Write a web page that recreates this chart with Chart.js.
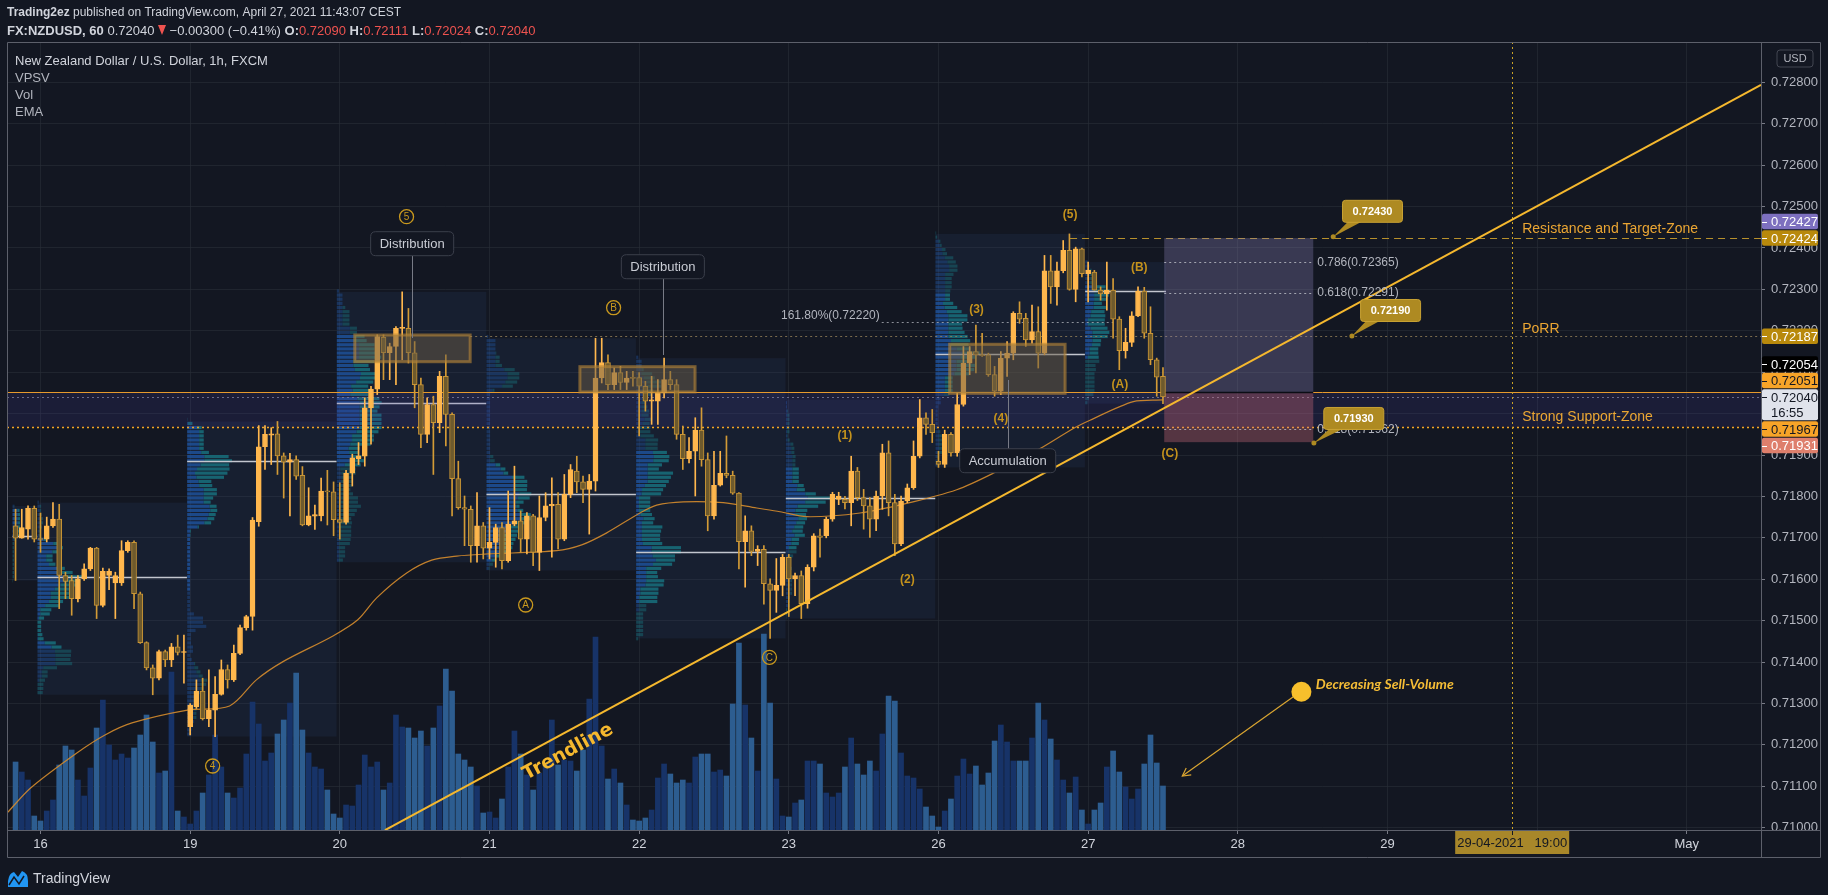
<!DOCTYPE html>
<html>
<head>
<meta charset="utf-8">
<script src="https://cdn.jsdelivr.net/npm/chart.js@4.4.0/dist/chart.umd.min.js"></script>
<style>
  html, body { margin: 0; padding: 0; background: #131722; overflow: hidden; }
</style>
</head>
<body>
<canvas id="c" width="1828" height="895"></canvas>
<script>
// ---- hourly bars, FX:NZDUSD 60 (bar index: first bar of 16 Apr = -1)
const firstBar = -5;

const open = [
  0.71729,0.71699,0.71721,0.71771,0.71697,0.71697,0.71729,0.71745,0.71609,0.71597,
  0.71553,0.71601,0.71625,0.71675,0.71537,0.71609,0.71591,0.71591,0.71669,0.71689,
  0.71565,0.71447,0.71386,0.71361,0.71425,0.71405,0.71437,0.71423,0.71244,0.71292,
  0.71330,0.71263,0.71284,0.71322,0.71382,0.71357,0.71421,0.71483,0.71510,0.71739,
  0.71920,0.71948,0.71951,0.71898,0.71883,0.71889,0.71851,0.71731,0.71752,0.71753,
  0.71813,0.71811,0.71744,0.71737,0.71856,0.71891,0.71897,0.72014,0.72059,0.72184,
  0.72147,0.72162,0.72206,0.72206,0.72147,0.72070,0.71950,0.72022,0.71978,0.72090,
  0.71998,0.71843,0.71773,0.71769,0.71681,0.71729,0.71675,0.71689,0.71725,0.71645,
  0.71733,0.71741,0.71697,0.71753,0.71665,0.71749,0.71777,0.71781,0.71697,0.71805,
  0.71861,0.71835,0.71817,0.71837,0.72086,0.72123,0.72070,0.72099,0.72075,0.72087,
  0.72087,0.72066,0.72030,0.72030,0.72050,0.72082,0.72070,0.71950,0.71891,0.71909,
  0.71960,0.71889,0.71753,0.71827,0.71856,0.71851,0.71808,0.71691,0.71717,0.71667,
  0.71672,0.71589,0.71573,0.71585,0.71653,0.71601,0.71609,0.71541,0.71629,0.71705,
  0.71705,0.71745,0.71793,0.71793,0.71785,0.71861,0.71797,0.71777,0.71745,0.71801,
  0.71905,0.71785,0.71685,0.71789,0.71821,0.71897,0.71990,0.71974,0.71885,0.71877,
  0.71950,0.71905,0.72022,0.72122,0.72150,0.72142,0.72142,0.72094,0.72054,0.72134,
  0.72146,0.72242,0.72230,0.72178,0.72198,0.72146,0.72345,0.72306,0.72345,0.72394,
  0.72300,0.72398,0.72338,0.72342,0.72298,0.72289,0.72298,0.72228,0.72152,0.72172,
  0.72236,0.72296,0.72194,0.72130,0.72090
];
const high = [
  0.71769,0.71769,0.71777,0.71777,0.71760,0.71750,0.71785,0.71781,0.71617,0.71609,
  0.71609,0.71637,0.71677,0.71677,0.71627,0.71625,0.71617,0.71693,0.71693,0.71693,
  0.71569,0.71449,0.71393,0.71429,0.71429,0.71445,0.71465,0.71465,0.71300,0.71357,
  0.71361,0.71381,0.71365,0.71405,0.71393,0.71441,0.71489,0.71513,0.71749,0.71971,
  0.71971,0.71966,0.71981,0.71905,0.71904,0.71898,0.71872,0.71821,0.71779,0.71844,
  0.71863,0.71835,0.71833,0.71863,0.71902,0.71930,0.72038,0.72066,0.72190,0.72190,
  0.72170,0.72210,0.72294,0.72254,0.72174,0.72086,0.72038,0.72042,0.72102,0.72142,
  0.72002,0.71885,0.71801,0.71777,0.71809,0.71737,0.71773,0.71733,0.71737,0.71813,
  0.71873,0.71765,0.71761,0.71757,0.71801,0.71809,0.71845,0.71809,0.71853,0.71877,
  0.71897,0.71849,0.71853,0.72182,0.72182,0.72142,0.72110,0.72114,0.72102,0.72102,
  0.72099,0.72078,0.72090,0.72082,0.72134,0.72102,0.72082,0.71970,0.71942,0.71990,
  0.72014,0.71905,0.71909,0.71909,0.71946,0.71861,0.71809,0.71753,0.71729,0.71681,
  0.71681,0.71601,0.71650,0.71660,0.71660,0.71615,0.71620,0.71635,0.71710,0.71721,
  0.71750,0.71810,0.71810,0.71800,0.71897,0.71870,0.71817,0.71797,0.71813,0.71926,
  0.71934,0.71805,0.71801,0.71830,0.71934,0.72034,0.72002,0.72010,0.71909,0.71960,
  0.71954,0.72050,0.72162,0.72162,0.72214,0.72194,0.72146,0.72114,0.72150,0.72174,
  0.72246,0.72270,0.72242,0.72262,0.72258,0.72382,0.72382,0.72366,0.72418,0.72434,
  0.72402,0.72400,0.72366,0.72346,0.72306,0.72366,0.72326,0.72234,0.72206,0.72246,
  0.72306,0.72305,0.72258,0.72134,0.72111
];
const low = [
  0.71597,0.71699,0.71697,0.71690,0.71665,0.71690,0.71725,0.71529,0.71553,0.71513,
  0.71545,0.71597,0.71621,0.71505,0.71533,0.71575,0.71505,0.71585,0.71665,0.71529,
  0.71445,0.71381,0.71321,0.71357,0.71389,0.71389,0.71417,0.71349,0.71224,0.71288,
  0.71260,0.71244,0.71220,0.71320,0.71337,0.71353,0.71418,0.71477,0.71477,0.71728,
  0.71865,0.71877,0.71853,0.71796,0.71753,0.71841,0.71729,0.71729,0.71720,0.71741,
  0.71731,0.71705,0.71697,0.71733,0.71825,0.71877,0.71873,0.71926,0.72046,0.72082,
  0.72082,0.72070,0.72130,0.72122,0.72014,0.71918,0.71930,0.71853,0.71954,0.71922,
  0.71753,0.71769,0.71681,0.71641,0.71641,0.71649,0.71649,0.71629,0.71625,0.71641,
  0.71729,0.71665,0.71661,0.71633,0.71621,0.71741,0.71653,0.71673,0.71693,0.71797,
  0.71809,0.71785,0.71709,0.71813,0.72074,0.72058,0.72058,0.72058,0.72058,0.72066,
  0.71946,0.72006,0.71974,0.71974,0.72038,0.72058,0.71938,0.71865,0.71881,0.71801,
  0.71873,0.71717,0.71745,0.71825,0.71845,0.71805,0.71625,0.71581,0.71657,0.71633,
  0.71540,0.71457,0.71520,0.71560,0.71510,0.71560,0.71505,0.71530,0.71620,0.71653,
  0.71700,0.71740,0.71780,0.71770,0.71729,0.71790,0.71721,0.71701,0.71717,0.71769,
  0.71753,0.71657,0.71681,0.71785,0.71817,0.71893,0.71950,0.71930,0.71870,0.71870,
  0.71897,0.71897,0.72018,0.72094,0.72098,0.72138,0.72090,0.72042,0.72046,0.72090,
  0.72130,0.72218,0.72162,0.72170,0.72110,0.72142,0.72266,0.72262,0.72340,0.72298,
  0.72270,0.72330,0.72270,0.72298,0.72274,0.72250,0.72182,0.72106,0.72134,0.72162,
  0.72234,0.72182,0.72118,0.72042,0.72024
];
const close = [
  0.71699,0.71725,0.71771,0.71697,0.71696,0.71729,0.71745,0.71609,0.71595,0.71553,
  0.71601,0.71625,0.71675,0.71537,0.71619,0.71619,0.71609,0.71669,0.71689,0.71565,
  0.71447,0.71386,0.71361,0.71425,0.71405,0.71437,0.71423,0.71425,0.71296,0.71330,
  0.71263,0.71284,0.71322,0.71382,0.71357,0.71421,0.71483,0.71510,0.71743,0.71920,
  0.71950,0.71951,0.71898,0.71883,0.71889,0.71849,0.71731,0.71753,0.71756,0.71813,
  0.71811,0.71744,0.71737,0.71856,0.71893,0.71898,0.72014,0.72059,0.72186,0.72147,
  0.72162,0.72206,0.72208,0.72147,0.72070,0.71950,0.72022,0.71978,0.72090,0.71998,
  0.71843,0.71773,0.71769,0.71681,0.71729,0.71675,0.71689,0.71725,0.71645,0.71733,
  0.71741,0.71697,0.71753,0.71665,0.71749,0.71777,0.71781,0.71697,0.71805,0.71865,
  0.71835,0.71817,0.71837,0.72086,0.72123,0.72070,0.72099,0.72075,0.72086,0.72085,
  0.72066,0.72030,0.72033,0.72050,0.72082,0.72070,0.71950,0.71891,0.71909,0.71960,
  0.71889,0.71753,0.71827,0.71856,0.71851,0.71808,0.71691,0.71717,0.71667,0.71672,
  0.71589,0.71573,0.71585,0.71653,0.71601,0.71609,0.71541,0.71629,0.71705,0.71701,
  0.71745,0.71805,0.71801,0.71785,0.71861,0.71797,0.71777,0.71745,0.71801,0.71905,
  0.71785,0.71685,0.71789,0.71821,0.71897,0.71990,0.71974,0.71954,0.71877,0.71950,
  0.71905,0.72022,0.72122,0.72150,0.72142,0.72140,0.72094,0.72054,0.72134,0.72146,
  0.72242,0.72228,0.72178,0.72198,0.72146,0.72345,0.72306,0.72345,0.72394,0.72300,
  0.72398,0.72338,0.72346,0.72298,0.72289,0.72298,0.72228,0.72152,0.72172,0.72236,
  0.72296,0.72194,0.72130,0.72088,0.72040
];
const volume = [
  68,58,50,14,9,19,30,65,84,80,
  50,34,62,102,130,85,70,76,72,82,
  95,115,88,57,59,158,19,13,6,19,
  37,55,95,63,37,32,42,76,128,106,
  69,77,96,110,127,157,100,77,63,61,
  40,16,12,25,24,45,75,63,68,40,
  47,115,103,102,92,99,84,102,124,161,
  139,76,70,63,44,17,18,12,31,63,
  99,76,55,40,57,67,110,65,70,69,
  59,80,131,193,84,51,61,47,25,10,
  9,12,20,52,66,56,47,50,47,73,
  76,76,58,60,54,126,187,125,92,59,
  196,127,51,14,13,27,30,69,69,66,
  37,33,37,63,92,66,55,69,59,96,
  134,129,77,54,52,41,23,14,3,19,
  31,54,71,56,64,45,57,89,105,88,
  69,69,69,92,127,110,91,70,50,37,
  53,20,6,20,27,63,79,58,43,31,
  41,66,95,67,44
];

// EMA
const emaX = [-6.26,-2.59,4.77,9.34,13.67,22.57,29.32,33.62,37.89,45.90,49.88,52.91,57.72,61.73,65.74,70.76,
  81.78,85.79,89.80,95.13,97.81,102.08,108.49,113.85,117.59,121.87,130.41,137.90,145.92,151.79,159.81,164.62,167.30,174.24,179.05];
const emaY = [0.71037,0.71096,0.71180,0.71224,0.71253,0.71284,0.71294,0.71357,0.71401,0.71463,0.71502,0.71555,0.71615,0.71646,0.71656,0.71661,
  0.71669,0.71683,0.71712,0.71760,0.71779,0.71787,0.71785,0.71772,0.71763,0.71751,0.71760,0.71783,0.71816,0.71856,0.71920,0.71964,0.71984,0.72029,0.72033];

// axes
const dayStarts = [-1, 23, 47, 71, 95, 119, 143, 167, 191, 215, 239, 263];
const dayLabels = ['16', '19', '20', '21', '22', '23', '26', '27', '28', '29', '30', 'May'];
const priceTicks = [0.710,0.711,0.712,0.713,0.714,0.715,0.716,0.717,0.718,0.719,0.720,0.721,0.722,0.723,0.724,0.725,0.726,0.727,0.728];
const sessions = [[-5,-2],[-1,22],[23,46],[47,70],[71,94],[95,118],[119,142],[143,166],[167,179]];

// drawings
const trendX = [54.24, 274.9];
const trendY = [0.70994, 0.72794];
const supportTop = 0.72051, supportBot = 0.71967, lastPrice = 0.72040;
const resistance = 0.72424, resistanceFrom = 164.1;
const porr = 0.72187, porrFrom = 67.9;
const fib161 = 0.72220, fib161From = 133.9, fib161To = 171.0;
const zoneX0 = [49.4, 85.5, 144.8], zoneX1 = [67.9, 103.96, 163.3];
const zoneY0 = [0.721898, 0.721133, 0.721674], zoneY1 = [0.721253, 0.720522, 0.720490];
const posX0 = 179.2, posX1 = 203.1, posTarget = 0.72424, posEntry = 0.72051, posStop = 0.71931;
const posFib = [0.72365, 0.72291, 0.71962], posFibText = ['0.786(0.72365)', '0.618(0.72291)', '0.618(0.71962)'];
const noteText = ['Distribution', 'Distribution', 'Accumulation'];
const noteX = [58.6, 98.8, 154.1], noteTop = [0.724393, 0.723837, 0.719152], noteTo = [0.721826, 0.721415, 0.720812];
const circText = ['5', 'B', 'A', 'C', '4'];
const circX = [57.7, 90.9, 76.8, 115.9, 26.6];
const circY = [0.724755, 0.722557, 0.715378, 0.714115, 0.71149];
const waveText = ['(1)', '(2)', '(3)', '(4)', '(5)', '(A)', '(B)', '(C)'];
const waveX = [128.0, 138.0, 149.1, 153.0, 164.1, 172.1, 175.2, 180.1];
const waveY = [0.719466, 0.715982, 0.722519, 0.719886, 0.724796, 0.720691, 0.723533, 0.719024];
const bubbleText = ['0.72430', '0.72190', '0.71930'];
const bubbleX = [212.6, 215.5, 209.6], bubbleY = [0.724885, 0.722490, 0.719882];
const bubbleTipX = [206.3, 209.3, 203.2], bubbleTipY = [0.72427, 0.721874, 0.71929];
const zoneText = ['Resistance and Target-Zone', 'PoRR', 'Strong Support-Zone'];
const zoneTextX = 236.6, zoneTextY = [0.724458, 0.722043, 0.719925];
const markIdx = 235, markLabel = '29-04-2021   19:00';
const tagPrices = [0.72427, 0.72424, 0.72187, 0.72054, 0.72051, 0.72040, 0.71967, 0.71931];
const tagBg = ['#7d70bf', '#b8890c', '#b8890c', '#000000', '#f7a428', '#e0e3eb', '#f7a428', '#de7f6c'];
const tagFg = ['#ffffff', '#ffffff', '#ffffff', '#ffffff', '#131722', '#131722', '#131722', '#ffffff'];
const mainTag = 5, mainTagSub = '16:55';

const FONT = '"Liberation Sans", Arial, sans-serif';
const xMin = -6.372, xMax = 274.9, yMin = 0.709944, yMax = 0.728974;

const barX = open.map((_, k) => firstBar + k);
const isUp = open.map((o, k) => close[k] >= o);

// ---- volume profile per session (VPSV), built from the bars
function buildProfile(a, b) {
  const rs = 0.0001;
  let lo = Infinity, hi = -Infinity;
  for (let i = a; i <= b; i++) {
    const k = i - firstBar;
    lo = Math.min(lo, low[k]); hi = Math.max(hi, high[k]);
  }
  const r0 = Math.floor(lo / rs + 1e-6), r1 = Math.ceil(hi / rs - 1e-6);
  const n = Math.max(1, r1 - r0);
  const up = new Array(n).fill(0), dn = new Array(n).fill(0);
  for (let i = a; i <= b; i++) {
    const k = i - firstBar;
    const L = low[k], H = high[k], span = Math.max(H - L, 1e-7);
    for (let r = 0; r < n; r++) {
      const rl = (r0 + r) * rs, rh = rl + rs;
      const ov = Math.min(H, rh) - Math.max(L, rl);
      if (ov <= 0) continue;
      const v = volume[k] * ov / span;
      if (isUp[k]) up[r] += v; else dn[r] += v;
    }
  }
  const tot = up.map((u, r) => u + dn[r]);
  let poc = 0;
  tot.forEach((t, r) => { if (t > tot[poc]) poc = r; });
  const sum = tot.reduce((s, t) => s + t, 0);
  let vaLo = poc, vaHi = poc, acc = tot[poc];
  while (acc < sum * 0.7 && (vaLo > 0 || vaHi < n - 1)) {
    const below = vaLo > 0 ? tot[vaLo - 1] : -1;
    const above = vaHi < n - 1 ? tot[vaHi + 1] : -1;
    if (above >= below) { vaHi++; acc += tot[vaHi]; } else { vaLo--; acc += tot[vaLo]; }
  }
  return { a, b, lo, hi, r0, rs, n, up, dn, poc, vaLo, vaHi, max: tot[poc] };
}
const profiles = sessions.map(s => buildProfile(s[0], s[1]));

// ---- helpers
function rrect(ctx, x, y, w, h, r) {
  ctx.beginPath();
  ctx.moveTo(x + r, y);
  ctx.lineTo(x + w - r, y); ctx.quadraticCurveTo(x + w, y, x + w, y + r);
  ctx.lineTo(x + w, y + h - r); ctx.quadraticCurveTo(x + w, y + h, x + w - r, y + h);
  ctx.lineTo(x + r, y + h); ctx.quadraticCurveTo(x, y + h, x, y + h - r);
  ctx.lineTo(x, y + r); ctx.quadraticCurveTo(x, y, x + r, y);
  ctx.closePath();
}
function hline(ctx, y, x0, x1, color, width, dash) {
  ctx.save();
  ctx.strokeStyle = color; ctx.lineWidth = width; ctx.setLineDash(dash || []);
  ctx.beginPath(); ctx.moveTo(x0, Math.round(y) + 0.5); ctx.lineTo(x1, Math.round(y) + 0.5); ctx.stroke();
  ctx.restore();
}

const tvPlugin = {
  id: 'tvPlugin',
  beforeDraw(c) {
    const ctx = c.ctx;
    ctx.save(); ctx.fillStyle = '#131722'; ctx.fillRect(0, 0, c.width, c.height); ctx.restore();
  },
  beforeDatasetsDraw(c) {
    const ctx = c.ctx, A = c.chartArea, X = c.scales.x, Y = c.scales.y;
    const px = v => X.getPixelForValue(v), py = v => Y.getPixelForValue(v);
    ctx.save();
    ctx.beginPath(); ctx.rect(A.left, A.top, A.right - A.left, A.bottom - A.top); ctx.clip();

    // session volume profiles
    profiles.forEach(p => {
      const x0 = px(p.a) - 3, x1 = px(p.b) + 3;
      const yT = py(p.hi), yB = py(p.lo);
      ctx.fillStyle = 'rgba(48,72,118,0.17)';
      ctx.fillRect(x0, yT, x1 - x0, yB - yT);
      const maxW = 0.3 * (x1 - x0);
      for (let r = 0; r < p.n; r++) {
        const rt = py((p.r0 + r + 1) * p.rs), rb = py((p.r0 + r) * p.rs);
        const h = Math.max(1, rb - rt - 1);
        const inVA = r >= p.vaLo && r <= p.vaHi;
        const wu = maxW * p.up[r] / p.max, wd = maxW * p.dn[r] / p.max;
        ctx.fillStyle = inVA ? 'rgba(30,84,160,0.8)' : 'rgba(30,84,160,0.42)';
        ctx.fillRect(x0, rt, wu, h);
        ctx.fillStyle = inVA ? 'rgba(24,112,124,0.85)' : 'rgba(24,112,124,0.45)';
        ctx.fillRect(x0 + wu, rt, wd, h);
      }
      const yp = py((p.r0 + p.poc + 0.5) * p.rs);
      hline(ctx, yp, x0, x1, '#c3c6ce', 1.5);
    });

    // support band + horizontal levels
    const bt = py(supportTop), bb = py(supportBot);
    ctx.fillStyle = 'rgba(72,62,170,0.16)';
    ctx.fillRect(A.left, bt, A.right - A.left, bb - bt);
    hline(ctx, bt, A.left, A.right, '#e79a2c', 1);
    hline(ctx, py(lastPrice), A.left, A.right, 'rgba(140,140,170,0.7)', 1, [2, 3]);
    hline(ctx, bb, A.left, A.right, '#f5a623', 1.5, [2, 3]);
    hline(ctx, py(porr), px(porrFrom), A.right, 'rgba(150,130,90,0.8)', 1, [2, 3]);
    hline(ctx, py(resistance), px(resistanceFrom), A.right, '#b8912c', 1.2, [7, 5]);
    hline(ctx, py(fib161), px(fib161From), px(fib161To), 'rgba(170,172,180,0.8)', 1, [2, 3]);

    // position tool
    const qx0 = px(posX0), qx1 = px(posX1);
    ctx.fillStyle = 'rgba(139,132,185,0.32)';
    ctx.fillRect(qx0, py(posTarget), qx1 - qx0, py(posEntry) - py(posTarget));
    ctx.fillStyle = 'rgba(208,110,125,0.35)';
    ctx.fillRect(qx0, py(posEntry), qx1 - qx0, py(posStop) - py(posEntry));
    hline(ctx, py(posEntry), qx0, qx1, '#0b0d14', 1.5);
    posFib.forEach(v => hline(ctx, py(v), qx0, qx1, 'rgba(190,192,200,0.8)', 1, [2, 3]));

    // time marker
    ctx.strokeStyle = '#c9a227'; ctx.lineWidth = 1; ctx.setLineDash([2, 3]);
    const mx = Math.round(px(markIdx)) + 0.5;
    ctx.beginPath(); ctx.moveTo(mx, A.top); ctx.lineTo(mx, A.bottom); ctx.stroke();
    ctx.setLineDash([]);
    ctx.restore();
  },
  afterDatasetsDraw(c) {
    const ctx = c.ctx, A = c.chartArea, X = c.scales.x, Y = c.scales.y;
    const px = v => X.getPixelForValue(v), py = v => Y.getPixelForValue(v);
    ctx.save();
    ctx.beginPath(); ctx.rect(A.left, A.top, A.right - A.left, A.bottom - A.top); ctx.clip();

    // distribution / accumulation rectangles
    zoneX0.forEach((x, i) => {
      const x0 = px(x), x1 = px(zoneX1[i]), y0 = py(zoneY0[i]), y1 = py(zoneY1[i]);
      ctx.fillStyle = 'rgba(105,92,70,0.5)';
      ctx.fillRect(x0, y0, x1 - x0, y1 - y0);
      ctx.strokeStyle = 'rgba(185,135,55,0.6)'; ctx.lineWidth = 3;
      ctx.strokeRect(x0, y0, x1 - x0, y1 - y0);
    });

    // fib labels
    ctx.font = '12px ' + FONT; ctx.fillStyle = '#b2b5be'; ctx.textBaseline = 'middle';
    ctx.textAlign = 'left';
    posFib.forEach((v, i) => ctx.fillText(posFibText[i], px(posX1) + 4, py(v)));
    ctx.textAlign = 'right';
    ctx.fillText('161.80%(0.72220)', px(fib161From) - 2, py(fib161) - 7);

    // callout notes
    ctx.font = '13px ' + FONT; ctx.textAlign = 'center';
    noteText.forEach((t, i) => {
      const cx = px(noteX[i]), top = py(noteTop[i]);
      const w = ctx.measureText(t).width + 18, h = 24;
      const tip = py(noteTo[i]);
      ctx.strokeStyle = '#787b86'; ctx.lineWidth = 1;
      ctx.beginPath();
      if (tip > top) { ctx.moveTo(Math.round(cx) + 0.5, top + h); ctx.lineTo(Math.round(cx) + 0.5, tip); }
      else { ctx.moveTo(Math.round(cx) + 0.5, top); ctx.lineTo(Math.round(cx) + 0.5, tip); }
      ctx.stroke();
      rrect(ctx, cx - w / 2, top, w, h, 5);
      ctx.fillStyle = '#131722'; ctx.fill();
      ctx.strokeStyle = '#3b3f4b'; ctx.stroke();
      ctx.fillStyle = '#c9ccd4'; ctx.fillText(t, cx, top + h / 2 + 1);
    });

    // circled elliott labels
    circText.forEach((t, i) => {
      const cx = px(circX[i]), cy = py(circY[i]);
      ctx.strokeStyle = '#c9991e'; ctx.lineWidth = 1.3;
      ctx.beginPath(); ctx.arc(cx, cy, 7, 0, Math.PI * 2); ctx.stroke();
      ctx.fillStyle = '#c9991e'; ctx.font = '10px ' + FONT; ctx.textAlign = 'center';
      ctx.fillText(t, cx, cy + 0.5);
    });
    ctx.font = 'bold 12px ' + FONT; ctx.fillStyle = '#c4921c';
    waveText.forEach((t, i) => ctx.fillText(t, px(waveX[i]), py(waveY[i])));

    // price bubbles
    ctx.font = 'bold 11px ' + FONT;
    bubbleText.forEach((t, i) => {
      const cx = px(bubbleX[i]), cy = py(bubbleY[i]);
      const tx = px(bubbleTipX[i]), ty = py(bubbleTipY[i]);
      const w = 60, h = 22, x0 = cx - w / 2, y0 = cy - h / 2;
      ctx.fillStyle = '#ae8a22'; ctx.strokeStyle = '#c9a233'; ctx.lineWidth = 1;
      ctx.beginPath(); ctx.moveTo(x0 + 6, y0 + h - 1); ctx.lineTo(tx, ty); ctx.lineTo(x0 + 20, y0 + h - 1); ctx.closePath();
      ctx.fill();
      rrect(ctx, x0, y0, w, h, 3); ctx.fill(); ctx.stroke();
      ctx.beginPath(); ctx.arc(tx, ty, 2.5, 0, Math.PI * 2); ctx.fill();
      ctx.fillStyle = '#ffffff'; ctx.textAlign = 'center'; ctx.fillText(t, cx, cy + 0.5);
    });

    // zone names
    ctx.font = '14px ' + FONT; ctx.fillStyle = '#eba633'; ctx.textAlign = 'left';
    zoneText.forEach((t, i) => ctx.fillText(t, px(zoneTextX), py(zoneTextY[i])));

    // trendline caption, along the line
    const ang = Math.atan2(py(trendY[1]) - py(trendY[0]), px(trendX[1]) - px(trendX[0]));
    ctx.save();
    ctx.translate(px(83.6), py(0.711828)); ctx.rotate(ang);
    ctx.font = 'bold 19px "DejaVu Sans", ' + FONT; ctx.fillStyle = '#f5b82e'; ctx.textAlign = 'center';
    ctx.fillText('Trendline', 0, 0);
    ctx.restore();

    // decreasing sell-volume note
    const ax0 = px(199.9), ay0 = py(0.713164), ax1 = px(182.1), ay1 = py(0.711248);
    ctx.strokeStyle = '#d9a531'; ctx.lineWidth = 1.2;
    ctx.beginPath(); ctx.moveTo(ax0, ay0); ctx.lineTo(ax1, ay1); ctx.stroke();
    const aa = Math.atan2(ay0 - ay1, ax0 - ax1);
    ctx.beginPath();
    ctx.moveTo(ax1 + 9 * Math.cos(aa - 0.5), ay1 + 9 * Math.sin(aa - 0.5));
    ctx.lineTo(ax1, ay1);
    ctx.lineTo(ax1 + 9 * Math.cos(aa + 0.5), ay1 + 9 * Math.sin(aa + 0.5));
    ctx.stroke();
    ctx.fillStyle = '#f7bf2c';
    ctx.beginPath(); ctx.arc(px(201.2), py(0.713284), 10, 0, Math.PI * 2); ctx.fill();
    ctx.font = 'italic bold 14px Lato, ' + FONT; ctx.fillStyle = '#f5bd36'; ctx.textAlign = 'left';
    ctx.fillText('Decreasing Sell-Volume', px(203.5), py(0.71347));
    ctx.restore();
  },
  afterDraw(c) {
    const ctx = c.ctx, A = c.chartArea, X = c.scales.x, Y = c.scales.y;
    ctx.save();
    // frame lines
    ctx.strokeStyle = '#5d606b'; ctx.lineWidth = 1;
    ctx.beginPath();
    ctx.moveTo(7.5, 42.5); ctx.lineTo(1820.5, 42.5); ctx.lineTo(1820.5, 857.5); ctx.lineTo(7.5, 857.5); ctx.closePath();
    ctx.moveTo(A.right + 0.5, 42); ctx.lineTo(A.right + 0.5, 858);
    ctx.moveTo(7, A.bottom + 0.5); ctx.lineTo(1821, A.bottom + 0.5);
    ctx.stroke();

    // price tags on the axis
    const tags = tagPrices.map((p, i) => ({ i, p, y: Y.getPixelForValue(p), h: i === mainTag ? 31 : 15.5 }));
    const main = tags[mainTag];
    let edge = main.y - 7.75;
    tags.filter(t => t.p > main.p).sort((a, b) => a.p - b.p).forEach(t => {
      t.y = Math.min(t.y, edge - 1 - t.h / 2); edge = t.y - t.h / 2;
    });
    edge = main.y - 7.75 + main.h;
    tags.filter(t => t.p < main.p).sort((a, b) => b.p - a.p).forEach(t => {
      t.y = Math.max(t.y, edge + 1 + t.h / 2); edge = t.y + t.h / 2;
    });
    ctx.font = '13px ' + FONT; ctx.textBaseline = 'middle'; ctx.textAlign = 'left';
    tags.forEach(t => {
      const top = t.i === mainTag ? t.y - 7.75 : t.y - t.h / 2;
      rrect(ctx, A.right + 1, top, 56, t.h, 2);
      ctx.fillStyle = tagBg[t.i]; ctx.fill();
      ctx.fillStyle = tagFg[t.i];
      ctx.fillRect(A.right + 1, Math.round(t.y), 5, 1);
      ctx.fillText(t.p.toFixed(5), A.right + 10, t.y + 1);
      if (t.i === mainTag) ctx.fillText(mainTagSub, A.right + 10, t.y + 16);
    });

    // USD button
    rrect(ctx, 1777, 50, 36, 17, 3); ctx.strokeStyle = '#434651'; ctx.stroke();
    ctx.fillStyle = '#b2b5be'; ctx.font = '11px ' + FONT; ctx.textAlign = 'center';
    ctx.fillText('USD', 1795, 59);

    // time marker tag
    const mx = X.getPixelForValue(markIdx);
    ctx.fillStyle = '#a8872a'; ctx.fillRect(mx - 57, A.bottom + 1, 114, 23);
    ctx.fillStyle = '#131722'; ctx.fillRect(Math.round(mx), A.bottom + 1, 1, 4);
    ctx.font = '13px ' + FONT; ctx.fillText(markLabel, mx, A.bottom + 13);

    // header
    ctx.textAlign = 'left';
    ctx.font = 'bold 12px ' + FONT; ctx.fillStyle = '#d1d4dc';
    ctx.fillText('Trading2ez', 7, 13);
    const w = ctx.measureText('Trading2ez').width;
    ctx.font = '12px ' + FONT;
    ctx.fillText(' published on TradingView.com, April 27, 2021 11:43:07 CEST', 7 + w, 13);
    const segs = [
      ['FX:NZDUSD, 60 ', true, '#d1d4dc'], ['0.72040 ', false, '#d1d4dc'], ['TRI', false, '#ef5350'],
      [' \u22120.00300 (\u22120.41%) ', false, '#d1d4dc'], ['O:', true, '#d1d4dc'], ['0.72090', false, '#ef5350'],
      [' H:', true, '#d1d4dc'], ['0.72111', false, '#ef5350'], [' L:', true, '#d1d4dc'], ['0.72024', false, '#ef5350'],
      [' C:', true, '#d1d4dc'], ['0.72040', false, '#ef5350']
    ];
    let x = 7;
    segs.forEach(s => {
      if (s[0] === 'TRI') {
        ctx.fillStyle = s[2];
        ctx.beginPath(); ctx.moveTo(x, 25); ctx.lineTo(x + 8, 25); ctx.lineTo(x + 4, 35); ctx.closePath(); ctx.fill();
        x += 8; return;
      }
      ctx.font = (s[1] ? 'bold ' : '') + '13px ' + FONT; ctx.fillStyle = s[2];
      ctx.fillText(s[0], x, 31); x += ctx.measureText(s[0]).width;
    });
    ctx.font = '13px ' + FONT; ctx.fillStyle = '#d1d4dc';
    ctx.fillText('New Zealand Dollar / U.S. Dollar, 1h, FXCM', 15, 61);
    ctx.fillStyle = '#b2b5be';
    ctx.fillText('VPSV', 15, 78); ctx.fillText('Vol', 15, 95); ctx.fillText('EMA', 15, 112);

    // logo
    ctx.fillStyle = '#2196f3';
    ctx.beginPath();
    ctx.moveTo(8, 887); ctx.lineTo(8, 881); ctx.quadraticCurveTo(9, 873, 14, 872); ctx.lineTo(18, 877);
    ctx.lineTo(22, 871); ctx.quadraticCurveTo(28, 873, 28, 881); ctx.lineTo(28, 887); ctx.closePath(); ctx.fill();
    ctx.strokeStyle = '#131722'; ctx.lineWidth = 1.5;
    ctx.beginPath(); ctx.moveTo(9, 885); ctx.lineTo(14, 877); ctx.lineTo(19, 884); ctx.lineTo(24, 876); ctx.stroke();
    ctx.fillStyle = '#d1d4dc'; ctx.font = '14px ' + FONT;
    ctx.fillText('TradingView', 33, 879);
    ctx.restore();
  }
};

Chart.defaults.font.family = FONT;

new Chart(document.getElementById('c'), {
  type: 'bar',
  data: {
    datasets: [
      {
        type: 'bar', label: 'Vol', yAxisID: 'yv',
        data: barX.map((x, k) => ({ x, y: volume[k] })),
        backgroundColor: isUp.map(u => u ? '#173368' : '#2d5d90'),
        barThickness: 5, grouped: false, order: 6
      },
      {
        type: 'line', label: 'EMA', yAxisID: 'y',
        data: emaX.map((x, k) => ({ x, y: emaY[k] })),
        borderColor: 'rgba(214,140,44,0.9)', borderWidth: 1.2, pointRadius: 0, tension: 0.3, order: 5
      },
      {
        type: 'bar', label: 'wick', yAxisID: 'y',
        data: barX.map((x, k) => ({ x, y: [low[k], high[k]] })),
        backgroundColor: isUp.map(u => u ? '#ffb74d' : '#d39b36'),
        barThickness: 1, grouped: false, order: 4
      },
      {
        type: 'bar', label: 'NZDUSD', yAxisID: 'y',
        data: barX.map((x, k) => ({ x, y: [open[k], close[k]] })),
        backgroundColor: isUp.map(u => u ? '#ffb74d' : '#6e5a2d'),
        borderColor: isUp.map(u => u ? '#ffb74d' : '#c99535'),
        borderWidth: 1, borderSkipped: false, minBarLength: 1,
        barThickness: 5, grouped: false, order: 3
      },
      {
        type: 'line', label: 'Trendline', yAxisID: 'y',
        data: trendX.map((x, k) => ({ x, y: trendY[k] })),
        borderColor: '#f5b82e', borderWidth: 2, pointRadius: 0, order: 2
      }
    ]
  },
  options: {
    responsive: false,
    animation: false,
    devicePixelRatio: 1,
    layout: { padding: { left: 7, top: 42, right: 7, bottom: 37 } },
    plugins: { legend: { display: false }, tooltip: { enabled: false } },
    scales: {
      x: {
        type: 'linear', min: xMin, max: xMax, offset: false,
        afterBuildTicks: ax => { ax.ticks = dayStarts.map(v => ({ value: v })); },
        afterFit: ax => { ax.height = 28; },
        ticks: {
          autoSkip: false, maxRotation: 0, color: '#d1d4dc', font: { size: 13 }, padding: 3,
          callback: v => dayLabels[dayStarts.indexOf(v)]
        },
        grid: { offset: false, color: 'rgba(42,46,57,0.6)', tickLength: 4, tickColor: '#787b86' },
        border: { color: '#5d606b' }
      },
      y: {
        position: 'right', min: yMin, max: yMax,
        afterBuildTicks: ax => { ax.ticks = priceTicks.map(v => ({ value: v })); },
        afterFit: ax => { ax.width = 60; },
        ticks: { color: '#b2b5be', font: { size: 13 }, padding: 6, callback: v => v.toFixed(5) },
        grid: { color: 'rgba(42,46,57,0.6)', tickLength: 4, tickColor: '#787b86' },
        border: { color: '#5d606b' }
      },
      yv: { display: false, min: 0, max: 788 }
    }
  },
  plugins: [tvPlugin]
});
</script>
</body>
</html>
